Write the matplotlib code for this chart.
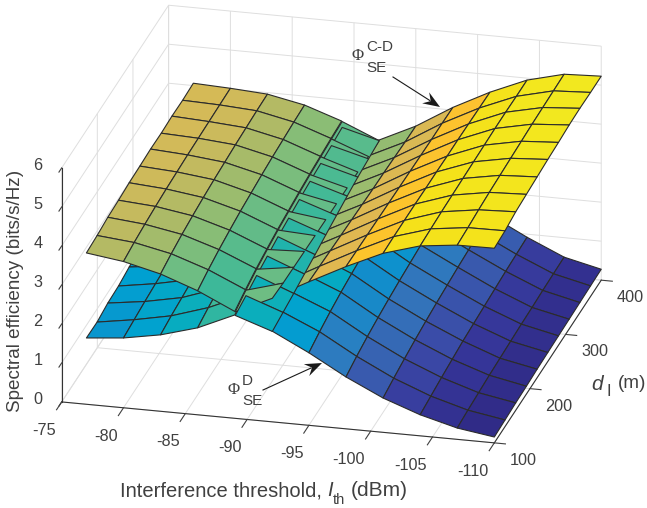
import matplotlib
matplotlib.use("Agg")
import matplotlib.pyplot as plt
import numpy as np
from matplotlib.colors import LinearSegmentedColormap, Normalize
from matplotlib.patches import Polygon
from mpl_toolkits.mplot3d.art3d import Poly3DCollection

plt.rcParams["font.family"] = ["Liberation Sans", "DejaVu Sans"]
plt.rcParams["axes.unicode_minus"] = False

threshold = [-77, -80, -83, -86, -89, -92, -95, -98, -101, -104, -107, -110]
distance = [100, 130, 160, 190, 220, 250, 280, 310, 340, 370, 400]

se_cd = [
    [3.88, 3.91, 3.96, 3.98, 4.01, 4.02, 4.04, 4.03, 4.05, 4.04, 4.06],
    [3.75, 3.82, 3.87, 3.91, 3.94, 3.96, 3.98, 3.99, 4.00, 4.01, 4.02],
    [3.52, 3.62, 3.70, 3.76, 3.81, 3.85, 3.88, 3.91, 3.93, 3.95, 3.96],
    [3.18, 3.30, 3.40, 3.48, 3.55, 3.60, 3.65, 3.69, 3.72, 3.75, 3.77],
    [2.74, 2.88, 3.00, 3.09, 3.17, 3.23, 3.29, 3.34, 3.38, 3.42, 3.45],
    [3.18, 3.15, 3.14, 3.13, 3.12, 3.11, 3.10, 3.09, 3.08, 3.06, 3.05],
    [3.68, 3.66, 3.64, 3.62, 3.60, 3.58, 3.56, 3.55, 3.53, 3.51, 3.50],
    [4.16, 4.15, 4.14, 4.13, 4.12, 4.11, 4.10, 4.09, 4.08, 4.08, 4.07],
    [4.59, 4.60, 4.60, 4.60, 4.59, 4.59, 4.58, 4.58, 4.57, 4.56, 4.55],
    [4.87, 4.89, 4.91, 4.92, 4.93, 4.94, 4.95, 4.96, 4.96, 4.95, 4.95],
    [4.98, 5.01, 5.05, 5.08, 5.10, 5.12, 5.14, 5.16, 5.17, 5.18, 5.19],
    [4.99, 5.02, 5.09, 5.12, 5.15, 5.18, 5.20, 5.23, 5.24, 5.23, 5.23],
]
se_d = [
    [1.70, 1.69, 1.76, 1.78, 1.85, 1.89, 1.93, 1.97, 2.00, 2.03, 2.06],
    [1.79, 1.84, 1.89, 1.93, 1.97, 2.00, 2.03, 2.06, 2.08, 2.10, 2.12],
    [1.96, 2.03, 2.08, 2.13, 2.17, 2.20, 2.23, 2.26, 2.28, 2.30, 2.32],
    [2.23, 2.33, 2.41, 2.47, 2.52, 2.56, 2.60, 2.63, 2.66, 2.68, 2.70],
    [2.65, 2.74, 2.84, 2.92, 3.00, 3.06, 3.12, 3.17, 3.21, 3.25, 3.30],
    [2.33, 2.40, 2.47, 2.55, 2.63, 2.72, 2.80, 2.88, 2.95, 3.00, 3.05],
    [1.86, 1.98, 2.08, 2.16, 2.22, 2.27, 2.31, 2.34, 2.37, 2.39, 2.41],
    [1.33, 1.44, 1.53, 1.60, 1.66, 1.71, 1.75, 1.79, 1.83, 1.86, 1.89],
    [0.88, 0.97, 1.05, 1.12, 1.18, 1.23, 1.27, 1.31, 1.34, 1.37, 1.40],
    [0.54, 0.60, 0.66, 0.71, 0.76, 0.79, 0.82, 0.85, 0.88, 0.90, 0.92],
    [0.29, 0.33, 0.36, 0.39, 0.41, 0.43, 0.45, 0.46, 0.48, 0.49, 0.50],
    [0.15, 0.17, 0.19, 0.20, 0.22, 0.23, 0.24, 0.25, 0.26, 0.27, 0.28],
]

x_ticks = [-75, -80, -85, -90, -95, -100, -105, -110]
y_ticks = [100, 200, 300, 400]
z_ticks = [0, 1, 2, 3, 4, 5, 6]

parula = LinearSegmentedColormap.from_list("parula", [
    (0.00, (0.19, 0.17, 0.53)), (0.05, (0.21, 0.21, 0.60)), (0.10, (0.23, 0.28, 0.65)),
    (0.15, (0.22, 0.37, 0.69)), (0.20, (0.20, 0.45, 0.73)), (0.25, (0.16, 0.50, 0.76)),
    (0.30, (0.06, 0.56, 0.80)), (0.35, (0.00, 0.63, 0.82)), (0.40, (0.02, 0.67, 0.76)),
    (0.45, (0.06, 0.69, 0.72)), (0.50, (0.22, 0.72, 0.61)), (0.55, (0.32, 0.73, 0.56)),
    (0.60, (0.44, 0.74, 0.51)), (0.65, (0.56, 0.74, 0.45)), (0.70, (0.68, 0.73, 0.40)),
    (0.75, (0.82, 0.73, 0.35)), (0.80, (0.90, 0.72, 0.30)), (0.85, (0.98, 0.74, 0.22)),
    (0.875, (0.99, 0.77, 0.17)), (0.93, (0.96, 0.88, 0.10)), (1.00, (0.95, 0.91, 0.12))])

norm = Normalize(0.15, 5.24)
edge = "#2b2b2b"
fold = 4  # column where the two surfaces meet


def cell(table, i, k):
    quad = [(threshold[i], distance[k], table[i][k]),
            (threshold[i + 1], distance[k], table[i + 1][k]),
            (threshold[i + 1], distance[k + 1], table[i + 1][k + 1]),
            (threshold[i], distance[k + 1], table[i][k + 1])]
    return quad, parula(norm(table[i + 1][k]))


def add_cells(cells, order):
    faces = [c[0] for c in cells]
    colors = [c[1] for c in cells]
    poly = Poly3DCollection(faces, facecolors=colors, edgecolors=edge, linewidths=0.8)
    poly.set_zorder(order)
    ax.add_collection3d(poly)


fig = plt.figure(figsize=(6.47, 5.08), dpi=100)
ax = fig.add_axes([-28 / 647, -75.5 / 508, 700 / 647, 700 / 508], projection="3d", proj_type="ortho")
ax.computed_zorder = False
ax.view_init(elev=22.3, azim=-76)
ax.set_box_aspect((446, 442, 253), zoom=0.9386)

ax.set_xlim(-75, -110)
ax.set_ylim(100, 400)
ax.set_zlim(0, 6)
ax.set_xticks(x_ticks)
ax.set_yticks(y_ticks)
ax.set_zticks(z_ticks)

rows = range(len(distance) - 1)
cols = range(len(threshold) - 1)
add_cells([cell(se_d, i, k) for i in cols for k in rows if i != fold], 1)
add_cells([cell(se_cd, i, k) for i in cols for k in rows if i != fold], 2)
# back to front along the fold, so the lower surface shows between the strips
for k in reversed(rows):
    add_cells([cell(se_cd, fold, k)], 3 + 2 * (len(distance) - k))
    add_cells([cell(se_d, fold, k)], 4 + 2 * (len(distance) - k))

for axis in (ax.xaxis, ax.yaxis, ax.zaxis):
    axis.set_pane_color((1, 1, 1, 0))
    axis.pane.set_edgecolor((0.87, 0.87, 0.87))
    axis._axinfo["grid"].update(color=(0.87, 0.87, 0.87), linewidth=0.7)
    axis.line.set_color("#333333")
    axis.line.set_linewidth(0.8)
ax.xaxis._axinfo["tick"].update(inward_factor=0.6, outward_factor=0.0)
ax.yaxis._axinfo["tick"].update(inward_factor=0.32, outward_factor=0.0)
ax.zaxis._axinfo["tick"].update(inward_factor=0.32, outward_factor=0.0)
ax.zaxis.set_ticks_position("lower")
ax.tick_params(colors="#404040", labelsize=11.7, width=0.8)
ax.tick_params(axis="x", pad=5.8)
ax.tick_params(axis="y", pad=1.5)
ax.tick_params(axis="z", pad=3.5)
for label in ax.get_xticklabels():
    label.set_ha("right")
for label in ax.get_yticklabels():
    label.set_ha("left")
for label in ax.get_zticklabels():
    label.set_va("bottom")

text_color = "#404040"


def put(x, y, s, size, ha="left", **kw):
    fig.text(x / 647, 1 - y / 508, s, fontsize=size, color=text_color, ha=ha, va="center", **kw)


put(120, 491, "Interference threshold,", 14.5)
put(327, 491, "I", 14.5, style="italic")
put(333, 500, "th", 10.5)
put(351, 491, "(dBm)", 15)
put(16, 291, "Spectral efficiency (bits/s/Hz)", 13.6, ha="center", rotation=90)
put(591, 384, "d", 15, style="italic")
put(606, 392, "I", 12)
put(618, 384, "(m)", 13.6)

put(358, 56, "\u03a6", 12, ha="center", family="Liberation Serif")
put(366, 47, "C-D", 11)
put(366, 68, "SE", 11)
put(234, 390, "\u03a6", 12, ha="center", family="Liberation Serif")
put(242, 381, "D", 11)
put(242, 401, "SE", 11)


def arrow(tail, tip):
    tail = np.array(tail, float)
    tip = np.array(tip, float)
    along = (tip - tail) / np.hypot(*(tip - tail))
    side = np.array([-along[1], along[0]])
    head = [tip, tip - 17 * along + 6.5 * side, tip - 11 * along, tip - 17 * along - 6.5 * side]
    to_fig = lambda p: (p[0] / 647, 1 - p[1] / 508)
    fig.add_artist(plt.Line2D(*zip(to_fig(tail), to_fig(tip - 12 * along)), color="#1a1a1a", lw=0.8,
                              transform=fig.transFigure))
    fig.add_artist(Polygon([to_fig(p) for p in head], closed=True, color="#1a1a1a", lw=0,
                           transform=fig.transFigure))


arrow((393, 77), (440, 107))
arrow((263, 390), (322, 363))

fig.savefig("out.png", dpi=100)
